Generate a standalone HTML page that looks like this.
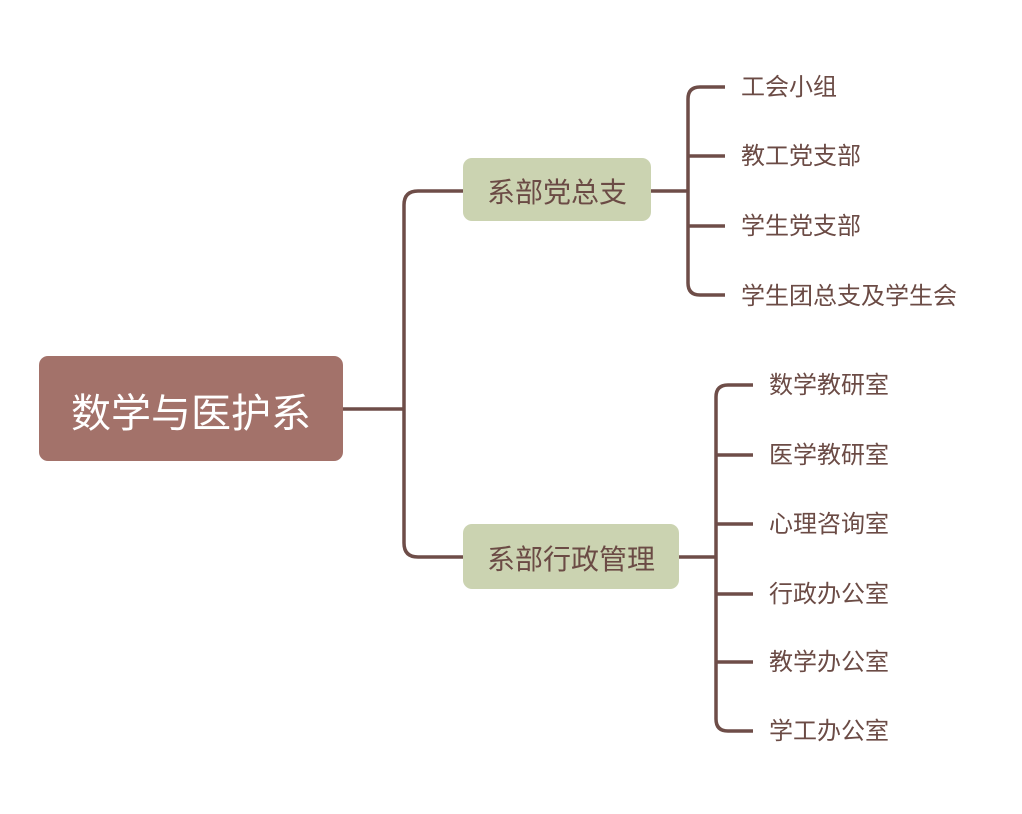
<!DOCTYPE html>
<html><head><meta charset="utf-8"><style>
body{margin:0;background:#fff;width:1022px;height:814px;overflow:hidden;position:relative;font-family:"Liberation Sans","Noto Sans CJK SC",sans-serif}
.b{position:absolute;display:flex;align-items:center;justify-content:center;border-radius:9px}
.t{position:absolute;font-size:24px;color:#6b4b45;line-height:32px;height:32px;white-space:nowrap}
</style></head><body>
<svg width="1022" height="814" style="position:absolute;left:0;top:0" fill="none" stroke="#6e4d48" stroke-width="3.5">
<path d="M343 409 H404"/>
<path d="M463 191 H418 Q404 191 404 205 V543 Q404 557 418 557 H463"/>
<path d="M651 191 H688"/>
<path d="M725 87 H700 Q688 87 688 99 V283 Q688 295 700 295 H725"/>
<path d="M688 156 H725 M688 226 H725"/>
<path d="M679 557 H716"/>
<path d="M753 385 H728 Q716 385 716 397 V719 Q716 731 728 731 H753"/>
<path d="M716 455 H753 M716 524 H753 M716 594 H753 M716 662 H753"/>
</svg>
<div class="b" style="left:39px;top:356px;width:304px;height:105px;background:#a3726a;color:#fff;font-size:40px;padding-top:2px;box-sizing:border-box">数学与医护系</div>
<div class="b" style="left:463px;top:158px;width:188px;height:63px;background:#cbd3b1;color:#6b4b45;font-size:28px;padding-top:2px;box-sizing:border-box">系部党总支</div>
<div class="b" style="left:463px;top:524px;width:216px;height:65px;background:#cbd3b1;color:#6b4b45;font-size:28px;padding-top:2px;box-sizing:border-box">系部行政管理</div>
<div class="t" style="left:741px;top:72px">工会小组</div>
<div class="t" style="left:741px;top:141px">教工党支部</div>
<div class="t" style="left:741px;top:211px">学生党支部</div>
<div class="t" style="left:741px;top:281px">学生团总支及学生会</div>
<div class="t" style="left:769px;top:370px">数学教研室</div>
<div class="t" style="left:769px;top:440px">医学教研室</div>
<div class="t" style="left:769px;top:509px">心理咨询室</div>
<div class="t" style="left:769px;top:579px">行政办公室</div>
<div class="t" style="left:769px;top:647px">教学办公室</div>
<div class="t" style="left:769px;top:716px">学工办公室</div>
</body></html>
